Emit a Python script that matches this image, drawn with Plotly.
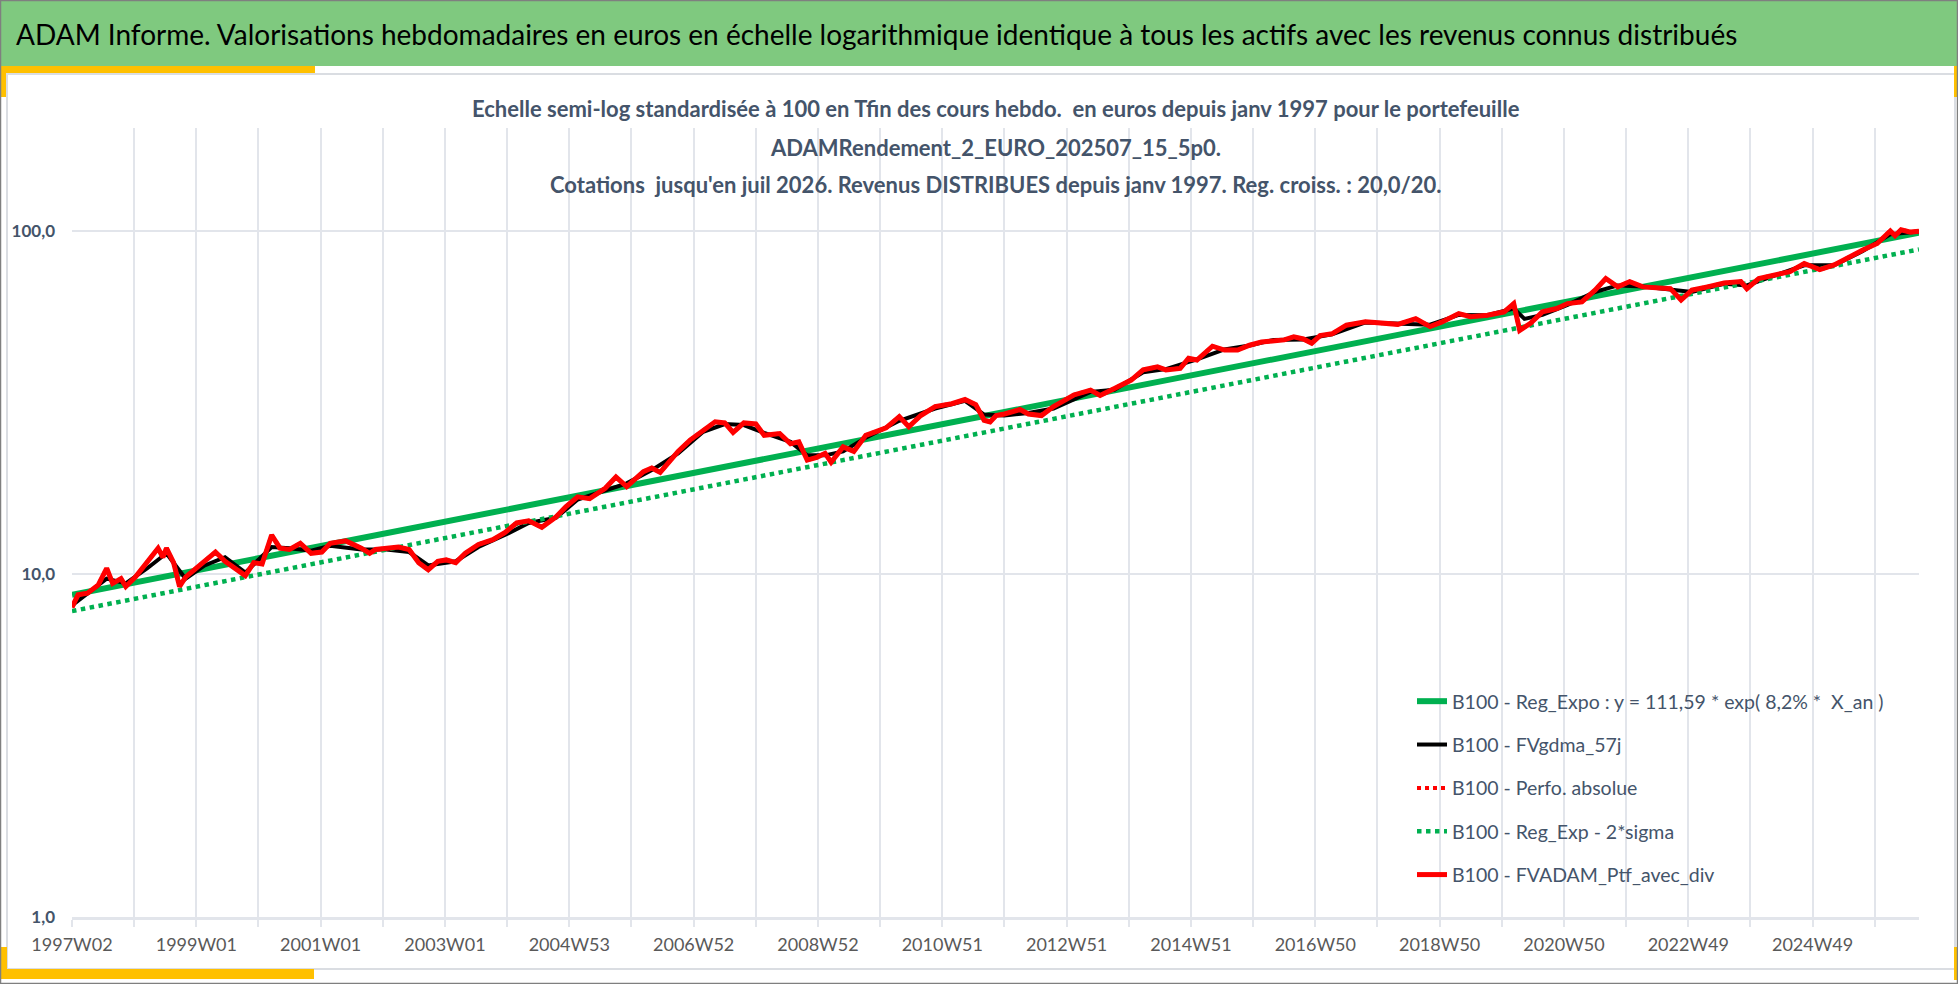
import plotly.graph_objects as go

# Taille de la figure et marges de la zone de tracé (en pixels)
W, H = 1958, 984
ML, MR, MT, MB = 72, 39, 128, 67

FONT = "Lato, Open Sans, sans-serif"
SLATE = "#44546A"
GRID = "#E2E5EB"
GREEN = "#00B050"
RED = "#FF0000"

# Semaines (index depuis 1997W02) et étiquettes de l'axe des x
TICK_LABELS = ["1997W02", "1999W01", "2001W01", "2003W01", "2004W53",
               "2006W52", "2008W52", "2010W51", "2012W51", "2014W51",
               "2016W50", "2018W50", "2020W50", "2022W49", "2024W49"]
LAST_WEEK = 1545

# Portefeuille avec dividendes (base 100 en fin de période)
RED_WEEK = [0, 5, 13, 22, 29, 34, 41, 45, 53, 63, 72, 76, 79, 85, 90, 95,
            104, 111, 120, 128, 137, 145, 152, 159, 167, 174, 182, 191, 200,
            209, 216, 229, 242, 249, 254, 263, 273, 282, 290, 298, 306, 313,
            321, 329, 340, 352, 362, 372, 382, 393, 405, 413, 423, 433, 446,
            455, 464, 478, 485, 492, 507, 517, 528, 538, 546, 553, 562, 572,
            579, 592, 601, 608, 615, 623, 630, 635, 645, 654, 664, 681, 692,
            700, 710, 722, 736, 747, 756, 763, 768, 773, 780, 793, 800, 811,
            821, 838, 852, 860, 872, 886, 896, 908, 915, 927, 934, 941, 954,
            964, 975, 985, 995, 1005, 1014, 1022, 1030, 1037, 1044, 1054,
            1066, 1082, 1095, 1109, 1124, 1136, 1146, 1160, 1170, 1184, 1198,
            1206, 1211, 1220, 1230, 1242, 1251, 1263, 1274, 1283, 1293, 1303,
            1314, 1329, 1337, 1346, 1355, 1368, 1382, 1396, 1401, 1411, 1427,
            1437, 1449, 1462, 1474, 1484, 1498, 1510, 1521, 1525, 1530, 1538,
            1545]
RED_VAL = [8.0, 8.7, 8.8, 9.3, 10.4, 9.4, 9.7, 9.2, 9.8, 10.8, 11.9, 11.2,
           11.9, 10.8, 9.2, 9.8, 10.4, 10.9, 11.6, 10.9, 10.4, 9.9, 10.8,
           10.7, 13.0, 11.9, 11.8, 12.3, 11.5, 11.6, 12.3, 12.5, 11.9, 11.5,
           11.8, 11.9, 12.0, 11.8, 10.8, 10.3, 10.9, 11.0, 10.8, 11.5, 12.2,
           12.6, 13.2, 14.1, 14.3, 13.7, 14.7, 15.7, 16.8, 16.6, 17.8, 19.2,
           18.0, 19.9, 20.4, 19.8, 22.8, 24.6, 26.3, 27.8, 27.6, 25.9, 27.6,
           27.4, 25.4, 25.7, 24.0, 24.3, 21.5, 21.9, 22.5, 21.2, 23.5, 22.8,
           25.4, 26.7, 28.8, 26.9, 29.0, 30.8, 31.4, 32.3, 31.2, 28.1, 27.8,
           29.0, 29.3, 30.2, 29.3, 29.0, 30.8, 33.3, 34.4, 33.2, 34.8, 36.8,
           39.4, 40.2, 39.4, 39.8, 42.6, 42.1, 46.2, 45.0, 45.0, 46.5, 47.5,
           48.0, 48.2, 49.2, 48.5, 47.1, 49.6, 50.2, 53.2, 54.4, 53.8, 53.5,
           55.6, 52.7, 54.4, 57.5, 56.3, 56.9, 58.2, 61.5, 51.4, 53.9, 58.2,
           59.5, 61.5, 62.2, 67.3, 72.8, 68.8, 71.3, 68.8, 68.0, 68.0, 63.0,
           67.3, 68.8, 70.6, 71.3, 68.0, 72.8, 75.0, 76.2, 80.5, 77.3, 79.7,
           83.2, 88.1, 92.1, 100.2, 97.0, 101.0, 99.4, 100.0]

# Moyenne mobile FVgdma_57j (lue sous la courbe rouge)
BLACK_WEEK = [0, 13, 29, 45, 63, 79, 95, 111, 128, 145, 167, 182, 200, 216,
              242, 263, 282, 298, 321, 340, 362, 382, 405, 423, 446, 464,
              485, 507, 528, 546, 562, 579, 601, 615, 630, 645, 664, 692,
              722, 747, 763, 780, 800, 821, 852, 872, 896, 915, 941, 964,
              985, 1005, 1030, 1054, 1082, 1109, 1136, 1160, 1184, 1206,
              1215, 1230, 1251, 1274, 1293, 1314, 1337, 1355, 1382, 1401,
              1427, 1449, 1474, 1498, 1521, 1545]
BLACK_VAL = [8.1, 8.8, 9.7, 9.4, 10.4, 11.5, 9.7, 10.6, 11.2, 10.1, 12.0,
             11.9, 11.7, 12.1, 11.8, 11.8, 11.6, 10.6, 10.9, 12.0, 13.0, 14.1,
             14.6, 16.5, 17.6, 18.4, 20.1, 22.5, 26.0, 27.4, 27.2, 25.8, 24.3,
             22.2, 22.2, 22.8, 25.0, 28.0, 30.4, 32.0, 29.2, 29.0, 29.5, 30.4,
             34.0, 34.5, 38.8, 39.6, 42.3, 45.2, 46.4, 48.2, 48.3, 50.0, 54.2,
             53.7, 53.4, 57.0, 56.9, 59.5, 55.5, 57.0, 61.0, 66.5, 69.5, 69.0,
             67.5, 66.5, 70.3, 69.5, 74.8, 79.5, 79.5, 87.5, 98.0, 99.8]

# Régression exponentielle et bande basse (2*sigma)
REG_WEEK = [0, LAST_WEEK]
REG_VAL = [8.7, 99.0]
SIGMA_VAL = [7.8, 88.5]


def px_x(px):
    return (px - ML) / (W - ML - MR)


def px_y(py):
    return (H - MB - py) / (H - MT - MB)


def rect(x0, y0, x1, y1, fill=None, line=None, lw=0, layer="above"):
    return dict(type="rect", xref="paper", yref="paper",
                x0=px_x(x0), x1=px_x(x1), y0=px_y(y1), y1=px_y(y0),
                fillcolor=fill or "rgba(0,0,0,0)",
                line=dict(color=line or "rgba(0,0,0,0)", width=lw),
                layer=layer)


fig = go.Figure()

fig.add_trace(go.Scatter(
    x=REG_WEEK, y=REG_VAL, mode="lines", legendgroup="g1",
    name="B100 - Reg_Expo : y = 111,59 * exp( 8,2% *  X_an )",
    line=dict(color=GREEN, width=6)))
fig.add_trace(go.Scatter(
    x=BLACK_WEEK, y=BLACK_VAL, mode="lines", legendgroup="g2",
    name="B100 - FVgdma_57j", line=dict(color="black", width=4)))
fig.add_trace(go.Scatter(
    x=RED_WEEK, y=RED_VAL, mode="lines", legendgroup="g3",
    name="B100 - Perfo. absolue", line=dict(color=RED, width=4, dash="dot")))
fig.add_trace(go.Scatter(
    x=REG_WEEK, y=SIGMA_VAL, mode="lines", legendgroup="g4",
    name="B100 - Reg_Exp - 2*sigma", line=dict(color=GREEN, width=4.5, dash="dot")))
fig.add_trace(go.Scatter(
    x=RED_WEEK, y=RED_VAL, mode="lines", legendgroup="g5",
    name="B100 - FVADAM_Ptf_avec_div", line=dict(color=RED, width=5)))

# graduations : une grille par an (52 semaines), une étiquette tous les deux ans
tickvals = list(range(0, LAST_WEEK, 52))
ticktext = []
for i in range(len(tickvals)):
    ticktext.append(TICK_LABELS[i // 2] if i % 2 == 0 else "")

subtitle = [
    "Echelle semi-log standardisée à 100 en Tfin des cours hebdo.  en euros depuis janv 1997 pour le portefeuille",
    "ADAMRendement_2_EURO_202507_15_5p0.",
    "Cotations  jusqu'en juil 2026. Revenus DISTRIBUES depuis janv 1997. Reg. croiss. : 20,0/20.",
]
annotations = [dict(
    text="ADAM Informe. Valorisations hebdomadaires en euros en échelle logarithmique identique à tous les actifs avec les revenus connus distribués",
    xref="paper", yref="paper", x=px_x(14), y=px_y(34), xanchor="left",
    yanchor="middle", showarrow=False,
    font=dict(family=FONT, size=28, color="black"))]
for line_txt, ypx in zip(subtitle, [109, 147, 184]):
    annotations.append(dict(
        text=line_txt, xref="paper", yref="paper", x=0.5, y=px_y(ypx),
        xanchor="center", yanchor="middle", showarrow=False,
        font=dict(family=FONT, size=22, color=SLATE, weight="bold")))

shapes = [
    rect(0, 0, W, 66, fill="#7FC97F"),
    rect(7, 74, 1955, 969, line="#DADDE2", lw=2, layer="below"),
    rect(0, 66, 315, 73, fill="#FFC000"),
    rect(0, 66, 6, 97, fill="#FFC000"),
    rect(0, 969, 314, 979, fill="#FFC000"),
    rect(0, 947, 7, 979, fill="#FFC000"),
    rect(1954, 66, W, 97, fill="#FFC000"),
    rect(1954, 947, W, 980, fill="#FFC000"),
    rect(0.5, 0.5, W - 0.5, H - 0.5, line="#7F7F7F", lw=1.5),
]

fig.update_layout(
    width=W, height=H, autosize=False,
    margin=dict(l=ML, r=MR, t=MT, b=MB, pad=0),
    paper_bgcolor="white", plot_bgcolor="white",
    font=dict(family=FONT),
    showlegend=True,
    legend=dict(x=px_x(1412), y=px_y(682), xanchor="left", yanchor="top",
                traceorder="grouped", tracegroupgap=15,
                bgcolor="rgba(0,0,0,0)",
                font=dict(family=FONT, size=19.5, color=SLATE)),
    annotations=annotations,
    shapes=shapes,
    xaxis=dict(range=[0, LAST_WEEK], tickmode="array", tickvals=tickvals,
               ticktext=ticktext, showgrid=True, gridcolor=GRID, gridwidth=1.5,
               ticks="outside", ticklen=7, tickcolor=GRID, tickwidth=1.5,
               showline=True, linecolor=GRID, linewidth=2.5, zeroline=False,
               ticklabelstandoff=3, automargin=False,
               tickfont=dict(family=FONT, size=18, color="#595959")),
    yaxis=dict(type="log", range=[0, 2.301], tickmode="array",
               tickvals=[1, 10, 100], ticktext=["1,0", "10,0", "100,0"],
               showgrid=True, gridcolor=GRID, gridwidth=1.5, zeroline=False,
               ticks="", ticklabelstandoff=16, automargin=False,
               tickfont=dict(family=FONT, size=17, color=SLATE, weight="bold")),
)

# la page HTML ne doit pas ajouter de marge autour du graphique
fig.write_html("out.html", config={"displayModeBar": False},
               post_script="document.body.style.margin='0';"
                           "document.body.style.overflow='hidden';")
